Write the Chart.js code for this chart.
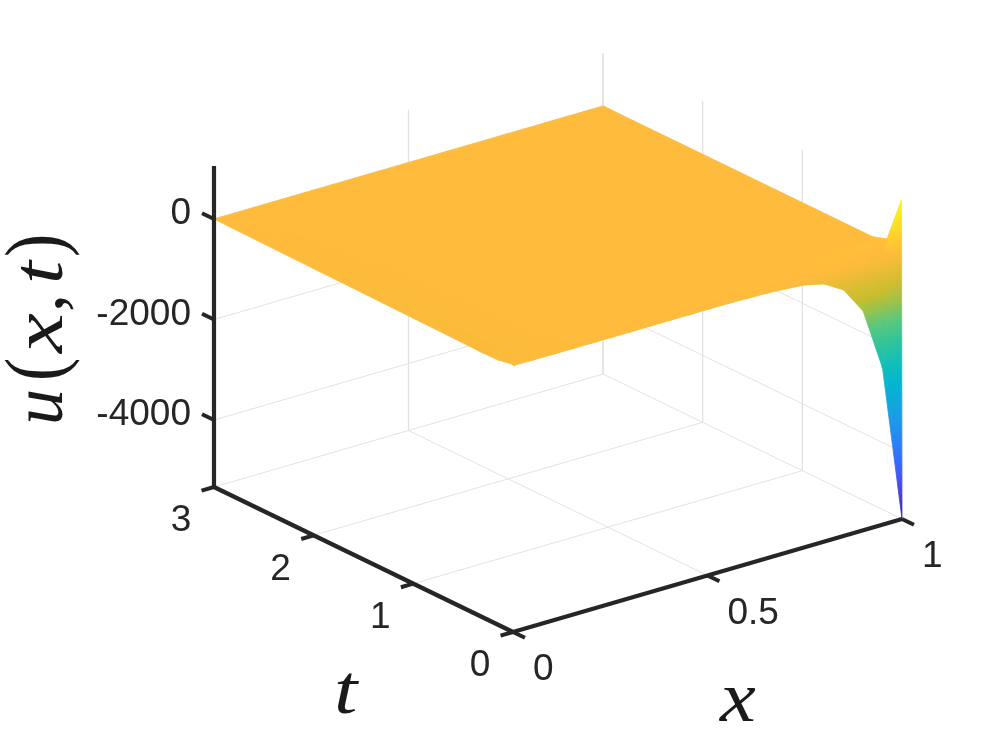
<!DOCTYPE html>
<html>

<head>
    <meta charset="utf-8">
    <title>u(x, t)</title>
    <script src="https://cdn.jsdelivr.net/npm/chart.js@4/dist/chart.umd.min.js"></script>
    <style>
        html, body { margin: 0; padding: 0; background: #fff; }
        canvas { display: block; }
    </style>
</head>

<body>
    <canvas id="plot" width="996" height="747"></canvas>
    <script>
        // surface samples, one array per time row
        var xValues = [0, 0.05, 0.1, 0.15, 0.2, 0.25, 0.3, 0.35, 0.4, 0.45, 0.5, 0.55, 0.6, 0.65, 0.7, 0.75, 0.8, 0.85, 0.9, 0.95, 1]
        var tValues = [0, 0.005, 0.15, 0.3, 3]
        var uRow0 = [-30, -35, -40, -40, -40, -40, -40, -40, -40, -40, -40, -40, -50, -60, -80, -114, -207, -438, -969, -2216, -5333]
        var uRow1 = [-10, -10, -10, -10, -10, -10, -10, -10, -10, -10, -10, -10, -10, -10, -10, -10, -10, -10, -40, -100, 1015]
        var uRow2 = [-65, -45, -25, -10, 0, 0, 0, 0, 0, 0, 0, 0, 0, 0, 0, 0, 20, 40, 60, 75, 95]
        var uRow3 = [-70, -40, -15, 0, 0, 0, 0, 0, 0, 0, 0, 0, 0, 0, 0, 0, 0, 0, 0, 0, 0]
        var uRow4 = [0, 0, 0, 0, 0, 0, 0, 0, 0, 0, 0, 0, 0, 0, 0, 0, 0, 0, 0, 0, 0]

        var xTicks = [0, 0.5, 1]
        var tTicks = [0, 1, 2, 3]
        var uTicks = [0, -2000, -4000]
        var uLimits = [-5333, 1055]

        var uRows = [uRow0, uRow1, uRow2, uRow3, uRow4]
        var colorMin = -5333
        var colorMax = 1015

        // view of the matlab axes box, the chart plane is the projected one
        function project(x, t, u) {
            return {
                x: 389 * x - 99.67 * t,
                y: 113 * x + 48.33 * t + 0.05025 * (u - uLimits[0])
            }
        }

        var parula = [
            [0, 62, 38, 168], [0.125, 72, 80, 245], [0.2, 50, 115, 255], [0.3, 30, 150, 235],
            [0.45, 2, 185, 205], [0.55, 40, 195, 160], [0.63, 90, 200, 125], [0.72, 195, 190, 45],
            [0.84, 255, 187, 59], [1, 249, 251, 21]
        ]

        function parulaColor(u) {
            var f = Math.max(0, Math.min(1, (u - colorMin) / (colorMax - colorMin)))
            for (var i = 1; i < parula.length; i++) {
                if (f <= parula[i][0]) {
                    var a = parula[i - 1], b = parula[i]
                    var k = (f - a[0]) / (b[0] - a[0])
                    return 'rgb(' + Math.round(a[1] + k * (b[1] - a[1])) + ',' + Math.round(a[2] + k * (b[2] - a[2])) + ',' + Math.round(a[3] + k * (b[3] - a[3])) + ')'
                }
            }
            return 'rgb(249,251,21)'
        }

        // linear gradient that follows u over one triangle (like shading interp)
        function triangleFill(tri) {
            return function (ctx) {
                var chart = ctx.chart
                if (!chart.chartArea) return parulaColor(tri[0].u)
                var p = tri.map(function (v) {
                    return { px: chart.scales.x.getPixelForValue(v.x), py: chart.scales.y.getPixelForValue(v.y), u: v.u }
                })
                var lo = p.reduce(function (m, v) { return v.u < m.u ? v : m })
                var hi = p.reduce(function (m, v) { return v.u > m.u ? v : m })
                var ax = p[1].px - p[0].px, ay = p[1].py - p[0].py, au = p[1].u - p[0].u
                var bx = p[2].px - p[0].px, by = p[2].py - p[0].py, bu = p[2].u - p[0].u
                var det = ax * by - ay * bx
                if (hi.u - lo.u < 1 || Math.abs(det) < 1e-6) return parulaColor(lo.u)
                var gx = (au * by - ay * bu) / det
                var gy = (ax * bu - au * bx) / det
                var len = (hi.u - lo.u) / (gx * gx + gy * gy)
                var grad = chart.ctx.createLinearGradient(lo.px, lo.py, lo.px + gx * len, lo.py + gy * len)
                for (var i = 0; i <= 16; i++) {
                    grad.addColorStop(i / 16, parulaColor(lo.u + (hi.u - lo.u) * i / 16))
                }
                return grad
            }
        }

        function triangleSet(a, b, c) {
            var fill = triangleFill([a, b, c])
            return {
                data: [a, b, c, a],
                showLine: true,
                fill: 'shape',
                backgroundColor: fill,
                borderColor: fill,
                borderWidth: 0.8,
                pointRadius: 0,
                tension: 0,
                clip: false
            }
        }

        function lineSet(points, color, width) {
            return {
                data: points,
                showLine: true,
                fill: false,
                borderColor: color,
                borderWidth: width,
                borderCapStyle: 'butt',
                pointRadius: 0,
                tension: 0,
                clip: false
            }
        }

        function vertex(i, j) {
            var p = project(xValues[i], tValues[j], uRows[j][i])
            p.u = uRows[j][i]
            return p
        }

        var gridColor = '#e2e2e2'
        var axisColor = '#262626'
        var uLow = uLimits[0], uHigh = uLimits[1]
        var tMax = tTicks[tTicks.length - 1]
        var back = []

        // floor
        xTicks.forEach(function (x) {
            back.push(lineSet([project(x, 0, uLow), project(x, tMax, uLow)], gridColor, 1))
        })
        tTicks.forEach(function (t) {
            back.push(lineSet([project(0, t, uLow), project(1, t, uLow)], gridColor, 1))
        })
        // back walls
        xTicks.forEach(function (x) {
            back.push(lineSet([project(x, tMax, uLow), project(x, tMax, uHigh)], gridColor, 1.3))
        })
        tTicks.slice(1).forEach(function (t) {
            back.push(lineSet([project(1, t, uLow), project(1, t, uHigh)], gridColor, 1.3))
        })
        uTicks.forEach(function (u) {
            back.push(lineSet([project(0, tMax, u), project(1, tMax, u), project(1, 0, u)], gridColor, 1))
        })

        // far rows first, near rows last
        var surface = []
        for (var j = tValues.length - 2; j >= 0; j--) {
            for (var i = xValues.length - 2; i >= 0; i--) {
                surface.push(triangleSet(vertex(i, j), vertex(i + 1, j + 1), vertex(i, j + 1)))
                surface.push(triangleSet(vertex(i, j), vertex(i + 1, j), vertex(i + 1, j + 1)))
            }
        }

        // axes and tick marks
        var axes = [
            lineSet([project(0, tMax, uLow), project(0, tMax, uHigh)], axisColor, 4.2),
            lineSet([project(0, tMax, uLow), project(0, 0, uLow)], axisColor, 4.2),
            lineSet([project(0, 0, uLow), project(1, 0, uLow)], axisColor, 4.2)
        ]
        uTicks.forEach(function (u) {
            axes.push(lineSet([project(0, tMax, u), project(0, tMax + 0.12, u)], axisColor, 4))
        })
        tTicks.forEach(function (t) {
            axes.push(lineSet([project(0, t, uLow), project(-0.032, t, uLow)], axisColor, 4))
        })
        xTicks.forEach(function (x) {
            axes.push(lineSet([project(x, 0, uLow), project(x, -0.12, uLow)], axisColor, 4))
        })

        // chart.js paints the first dataset on top
        var datasets = back.concat(surface, axes).reverse()

        function px(chart, p) {
            return { x: chart.scales.x.getPixelForValue(p.x), y: chart.scales.y.getPixelForValue(p.y) }
        }

        // computer modern is wider than the serif we have, so stretch glyphs sideways
        function drawPiece(ctx, p, at) {
            ctx.font = (p.italic ? 'italic ' : '') + p.size + 'px "Liberation Serif"'
            ctx.save()
            ctx.translate(at, 0)
            ctx.scale(p.stretch || 1, 1)
            ctx.fillText(p.text, 0, 0)
            ctx.restore()
        }

        var axisLabel = [
            { text: 'u', italic: true, size: 72, at: -94 },
            { text: '(', size: 82, at: -50, stretch: 0.85 },
            { text: 'x', italic: true, size: 72, at: -22, stretch: 1.25 },
            { text: ',', size: 72, at: 19 },
            { text: 't', italic: true, size: 72, at: 47, stretch: 1.15 },
            { text: ')', size: 82, at: 74, stretch: 0.85 }
        ]

        var labelPlugin = {
            id: 'labels',
            afterDatasetsDraw: function (chart) {
                var ctx = chart.ctx
                ctx.save()
                ctx.fillStyle = axisColor
                ctx.font = '37px "Liberation Sans"'
                ctx.textBaseline = 'middle'

                ctx.textAlign = 'right'
                uTicks.forEach(function (u) {
                    var p = px(chart, project(0, tMax, u))
                    ctx.fillText(String(u), p.x - 23, p.y - 5)
                })
                ctx.textAlign = 'center'
                tTicks.forEach(function (t) {
                    var p = px(chart, project(0, t, uLow))
                    ctx.fillText(String(t), p.x - 33, p.y + 34)
                })
                ctx.textAlign = 'left'
                xTicks.forEach(function (x) {
                    var p = px(chart, project(x, 0, uLow))
                    ctx.fillText(String(x), p.x + 20, p.y + 38)
                })

                ctx.fillStyle = '#1a1a1a'
                ctx.textAlign = 'left'
                ctx.textBaseline = 'alphabetic'
                ctx.save()
                ctx.translate(62, 331)
                ctx.rotate(-Math.PI / 2)
                axisLabel.forEach(function (p) {
                    drawPiece(ctx, p, p.at)
                })
                ctx.restore()

                ctx.save()
                ctx.translate(334, 713)
                drawPiece(ctx, { text: 't', italic: true, size: 70, stretch: 1.2 }, 0)
                ctx.restore()
                ctx.save()
                ctx.translate(720, 721)
                drawPiece(ctx, { text: 'x', italic: true, size: 72, stretch: 1.12 }, 0)
                ctx.restore()
                ctx.restore()
            }
        }

        new Chart(document.getElementById('plot'), {
            type: 'scatter',
            data: { datasets: datasets },
            plugins: [labelPlugin],
            options: {
                responsive: false,
                animation: false,
                events: [],
                layout: { padding: 0 },
                plugins: { legend: { display: false }, tooltip: { enabled: false } },
                scales: {
                    x: { type: 'linear', display: false, min: -513, max: 483 },
                    y: { type: 'linear', display: false, min: -115, max: 632 }
                }
            }
        })
    </script>
</body>

</html>
